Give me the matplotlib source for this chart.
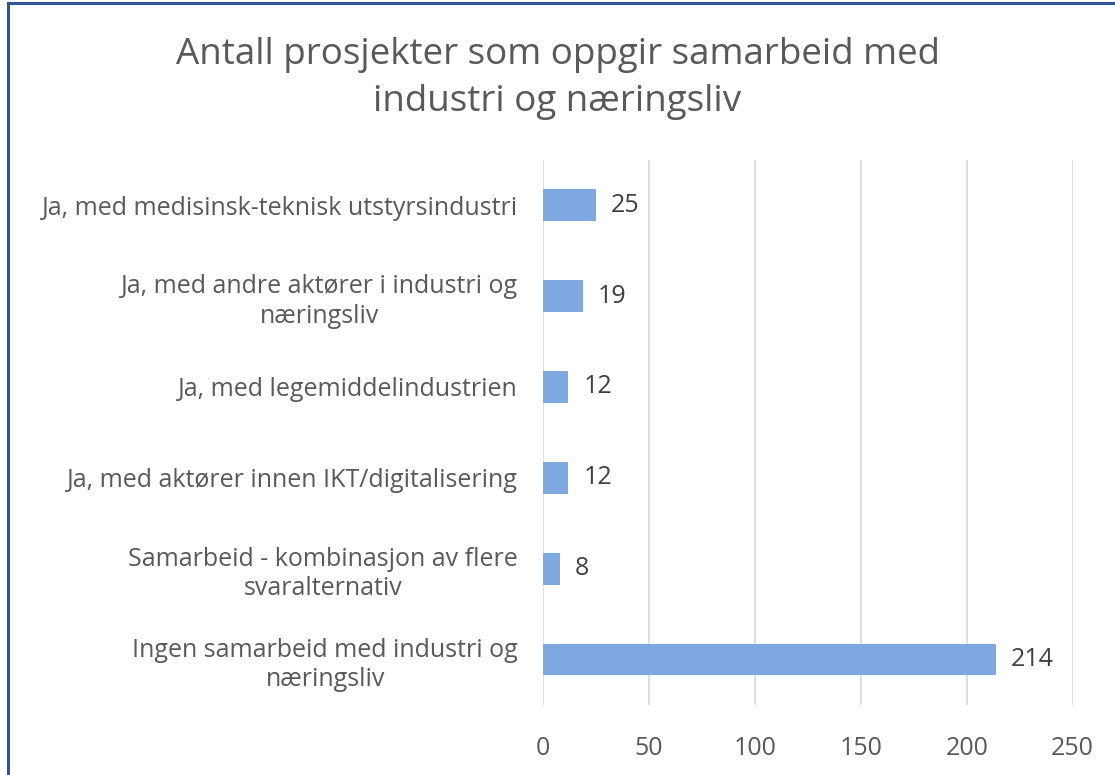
import matplotlib

matplotlib.use("Agg")
import matplotlib.pyplot as plt
from matplotlib.lines import Line2D

categories = [
    "Ja, med medisinsk-teknisk utstyrsindustri",
    "Ja, med andre aktører i industri og\nnæringsliv",
    "Ja, med legemiddelindustrien",
    "Ja, med aktører innen IKT/digitalisering",
    "Samarbeid - kombinasjon av flere\nsvaralternativ",
    "Ingen samarbeid med industri og\nnæringsliv",
]
values = [25, 19, 12, 12, 8, 214]
xticks = [0, 50, 100, 150, 200, 250]

plt.rcParams["font.family"] = ["Open Sans", "DejaVu Sans"]
grey = "#595959"

fig = plt.figure(figsize=(11.15, 7.75), dpi=100)
ax = fig.add_axes([0.487, 0.0903, 0.475, 0.7035])

pos = list(range(len(categories)))
ax.barh(pos, values, height=0.35, color="#7FA7E0", zorder=3)
for y, v in zip(pos, values):
    ax.text(v + 7, y, str(v), va="center", ha="left", fontsize=18, color="#404040")

ax.set_ylim(len(categories) - 0.5, -0.5)
ax.set_xlim(0, 250)
ax.set_xticks(xticks)
ax.set_xticklabels([str(t) for t in xticks], fontsize=18, color=grey)
ax.set_yticks(pos)
ax.set_yticklabels(categories, fontsize=18, color=grey, ha="right",
                   multialignment="center", linespacing=1.25)
ax.tick_params(axis="both", length=0)
ax.tick_params(axis="y", pad=18)
ax.tick_params(axis="x", pad=22)
ax.grid(axis="x", color="#D9D9D9", linewidth=1.2, zorder=0)
for s in ax.spines.values():
    s.set_visible(False)

fig.text(0.5, 0.899, "Antall prosjekter som oppgir samarbeid med\nindustri og næringsliv",
         ha="center", va="center", fontsize=26.5, color=grey, linespacing=1.4)

# ramme (kun venstre og topp synlig i originalen)
fig.add_artist(Line2D([0.0075, 0.0075], [0, 0.996], color="#2F5597", linewidth=2.2,
                      transform=fig.transFigure))
fig.add_artist(Line2D([0.0075, 1], [0.996, 0.996], color="#2F5597", linewidth=2.2,
                      transform=fig.transFigure))

fig.savefig("out.png", dpi=100)
